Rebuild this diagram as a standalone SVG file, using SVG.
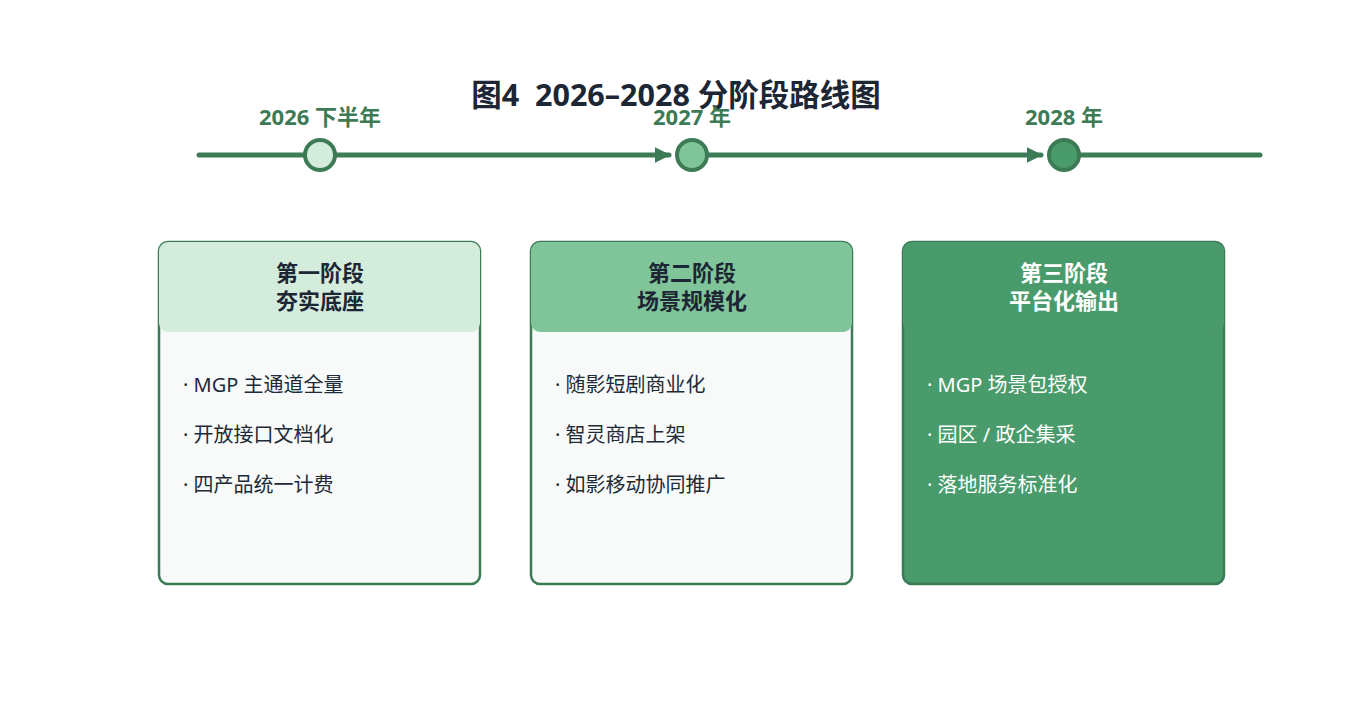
<svg xmlns="http://www.w3.org/2000/svg" width="1352" height="703" viewBox="0 0 1352 703">
<defs>
<marker id="arr" viewBox="0 0 10 10" refX="9" refY="5" markerWidth="3.2" markerHeight="3.2" orient="auto" markerUnits="strokeWidth">
<path d="M0,0 L10,5 L0,10 z" fill="#3d7a56"/>
</marker>
<style>
.t{font-family:"Noto Sans","Noto Sans CJK SC",sans-serif}
.title{font-size:30.5px;font-weight:700;fill:#1c2634;white-space:pre}
.yr{font-size:22px;font-weight:700;fill:#3d7a56}
.tl{stroke:#3d7a56;stroke-width:5;stroke-linecap:round;fill:none}
.dot{stroke:#3d7a56;stroke-width:4}
.card{fill:#f7faf8;stroke:#3d7a56;stroke-width:2.5}
.hd{font-size:22px;font-weight:700;fill:#1c2634}
.it{font-size:20px;fill:#1f2a37}
.w{fill:#ffffff}
</style>
</defs>
<rect width="1352" height="703" fill="#ffffff"/>
<text class="t title" x="676" y="106" text-anchor="middle" xml:space="preserve">图4  2026–2028 分阶段路线图</text>
<g id="connectors">
<path class="tl" d="M199,155 L305,155"/>
<path class="tl" d="M335,155 L669,155" marker-end="url(#arr)"/>
<path class="tl" d="M707,155 L1041,155" marker-end="url(#arr)"/>
<path class="tl" d="M1079,155 L1260,155"/>
</g>
<g id="m2026">
<text class="t yr" x="320" y="125" text-anchor="middle">2026 下半年</text>
<circle class="dot" cx="320" cy="155" r="15" fill="#d4ecdc"/>
</g>
<g id="m2027">
<text class="t yr" x="692" y="125" text-anchor="middle">2027 年</text>
<circle class="dot" cx="692" cy="155" r="15" fill="#80c49a"/>
</g>
<g id="m2028">
<text class="t yr" x="1064" y="125" text-anchor="middle">2028 年</text>
<circle class="dot" cx="1064" cy="155" r="15" fill="#4a9b6b"/>
</g>
<g id="stage1">
<rect class="card" x="159" y="242" width="321" height="342" rx="9"/>
<rect x="159" y="242" width="321" height="90" rx="9" fill="#d4ecdc"/>
<text class="t hd" x="320" y="281" text-anchor="middle">第一阶段</text>
<text class="t hd" x="320" y="309" text-anchor="middle">夯实底座</text>
<text class="t it" x="183" y="392" xml:space="preserve">· MGP 主通道全量</text>
<text class="t it" x="183" y="442">· 开放接口文档化</text>
<text class="t it" x="183" y="492">· 四产品统一计费</text>
</g>
<g id="stage2">
<rect class="card" x="531" y="242" width="321" height="342" rx="9"/>
<rect x="531" y="242" width="321" height="90" rx="9" fill="#80c49a"/>
<text class="t hd" x="692" y="281" text-anchor="middle">第二阶段</text>
<text class="t hd" x="692" y="309" text-anchor="middle">场景规模化</text>
<text class="t it" x="555" y="392">· 随影短剧商业化</text>
<text class="t it" x="555" y="442">· 智灵商店上架</text>
<text class="t it" x="555" y="492">· 如影移动协同推广</text>
</g>
<g id="stage3">
<rect class="card" x="903" y="242" width="321" height="342" rx="9" style="fill:#4a9b6b"/>
<rect x="903" y="242" width="321" height="90" rx="9" fill="#4a9b6b"/>
<text class="t hd w" x="1064" y="281" text-anchor="middle">第三阶段</text>
<text class="t hd w" x="1064" y="309" text-anchor="middle">平台化输出</text>
<text class="t it w" x="927" y="392">· MGP 场景包授权</text>
<text class="t it w" x="927" y="442">· 园区 / 政企集采</text>
<text class="t it w" x="927" y="492">· 落地服务标准化</text>
</g>
</svg>
